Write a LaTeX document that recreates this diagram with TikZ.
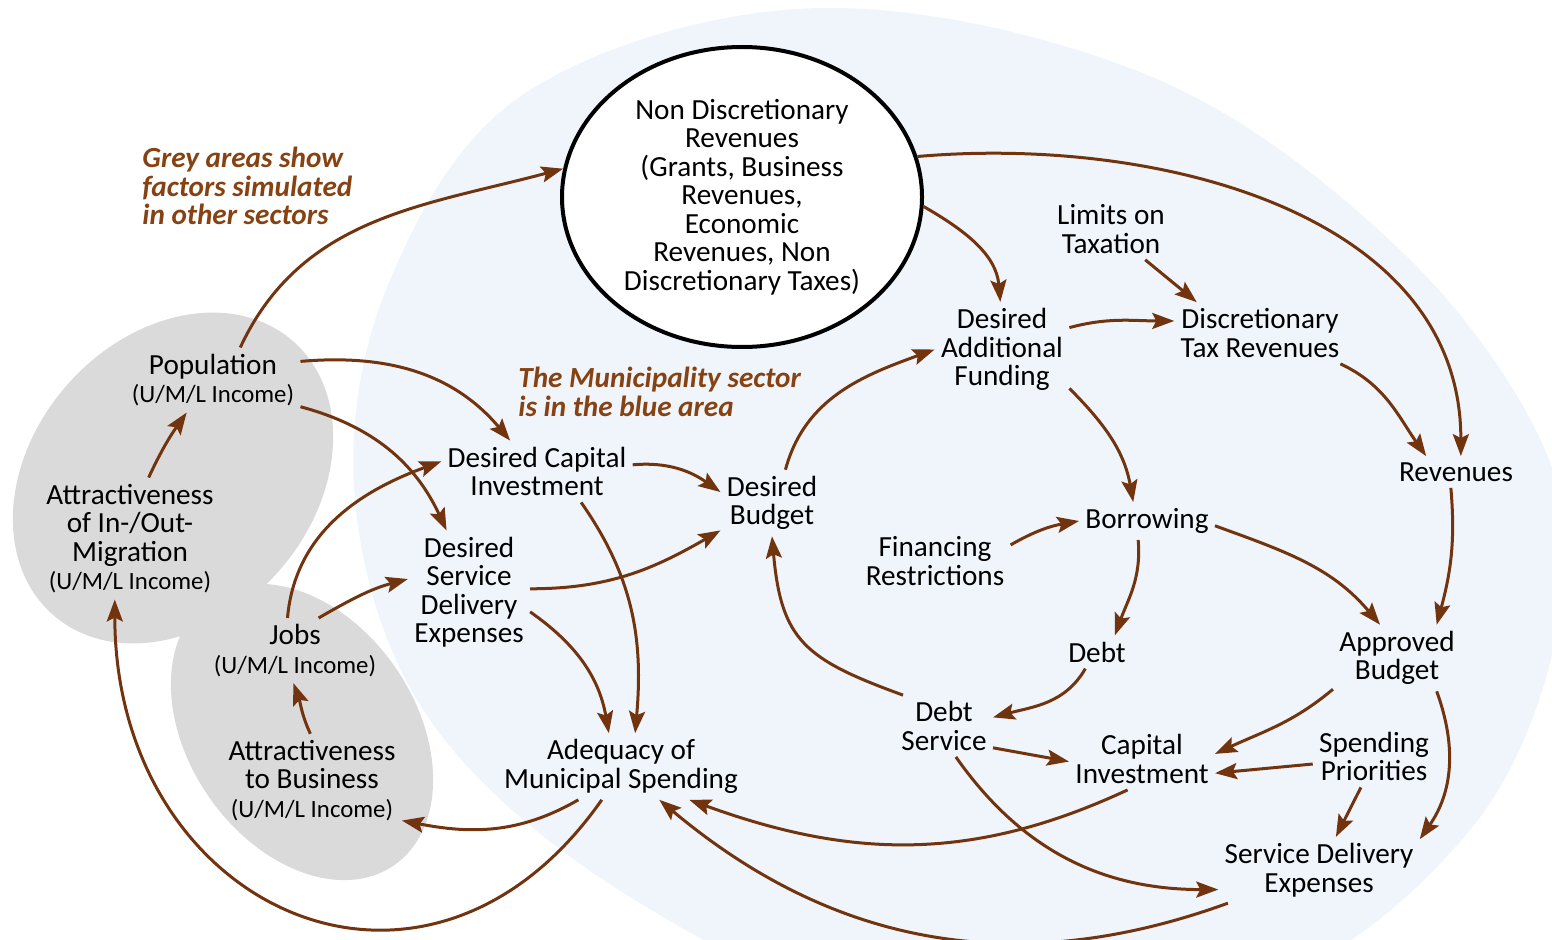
\documentclass[tikz,border=0pt]{standalone}
\usepackage{fontspec}
\setmainfont{Carlito}
\usepackage{tikz}
\usetikzlibrary{positioning, arrows.meta, shapes.geometric}

\definecolor{bluearea}{RGB}{239,245,251}
\definecolor{greyarea}{RGB}{218,218,218}
\definecolor{linkbrown}{RGB}{114,52,14}
\definecolor{notebrown}{RGB}{134,66,18}
\newcommand\varfont{\fontsize{14.6}{14.25}\selectfont}
\newcommand\inc{\fontsize{12.4}{13.5}\selectfont}

\tikzset{
  var/.style={align=center, inner sep=3pt, font=\varfont},
  link/.style={draw=linkbrown, line width=1.5pt, -{Stealth[length=11pt,width=8pt,inset=2pt]}},
  note/.style={anchor=west, align=left, inner sep=0pt, text=notebrown, font=\varfont\bfseries\itshape},
}

\begin{document}
\begin{tikzpicture}[x=0.5pt, y=0.5pt]
		\useasboundingbox (0,0) rectangle (1552,939);
		\clip (0,0) rectangle (1552,939);
		\fill[bluearea] plot[smooth cycle, tension=0.6] coordinates {(820,931) (1152,862) (1400,689) (1545,489) (1560,319) (1470,109) (1250,-51) (900,-71) (630,42) (430,219) (355,439) (390,659) (530,849)};
		\fill[greyarea, rotate around={48.7:(173,461)}] (173,461) ellipse [x radius=182, y radius=141];
		\fill[greyarea, rotate around={-55.4:(302,207)}] (302,207) ellipse [x radius=162, y radius=113.5];
		
		\node[note] (greynote) at (142,753) {Grey areas show\\factors simulated\\in other sectors};
		\node[note] (muninote) at (518,547) {The Municipality sector\\is in the blue area};
		
		\node[var, ellipse, draw, fill=white, line width=2pt, minimum width=180pt, minimum height=150pt] (ndr) at (742,742) {Non Discretionary\\Revenues\\(Grants, Business\\Revenues,\\Economic\\Revenues, Non\\Discretionary Taxes)};
		\node[var] (pop) at (213,559) {Population\\\inc (U/M/L Income)};
		\node[var] (attr) at (130,400.5) {Attractiveness\\of In-/Out-\\Migration\\\inc (U/M/L Income)};
		\node[var] (jobs) at (295,288.5) {Jobs\\\inc (U/M/L Income)};
		\node[var] (attrbus) at (312,158.5) {Attractiveness\\to Business\\\inc (U/M/L Income)};
		\node[var] (dci) at (537,467.5) {Desired Capital\\Investment};
		\node[var] (dsde) at (469,347) {Desired\\Service\\Delivery\\Expenses};
		\node[var] (db) at (772,436) {Desired\\Budget};
		\node[var] (adeq) at (621,172.5) {Adequacy of\\Municipal Spending};
		\node[var] (daf) at (1002,589.5) {Desired\\Additional\\Funding};
		\node[var] (lim) at (1111,710) {Limits on\\Taxation};
		\node[var] (dtr) at (1260,606) {Discretionary\\Tax Revenues};
		\node[var] (rev) at (1456,467) {Revenues};
		\node[var] (borr) at (1147,418) {Borrowing};
		\node[var] (fin) at (935,378) {Financing\\Restrictions};
		\node[var] (debt) at (1097,287) {Debt};
		\node[var] (ab) at (1397,281) {Approved\\Budget};
		\node[var] (ds) at (944,213) {Debt\\Service};
		\node[var] (ci) at (1142,180) {Capital\\Investment};
		\node[var] (sp) at (1374,182.5) {Spending\\Priorities};
		\node[var] (sde) at (1319,69) {Service Delivery\\Expenses};
		
		\draw[link] (pop.50) to[out=65, in=195] (ndr.171);
		\draw[link] (pop.12) to[out=5, in=130] (dci.131);
		\draw[link] (pop.-17) to[out=-15, in=115] (dsde.110);
		\draw[link] (attr.73) to[out=65, in=235] (pop.231);
		\draw[link] (adeq.-120) to[out=-125, in=-90, looseness=1.5] (attr.256);
		\draw[link] (jobs.103) to[out=85, in=200] (dci.174);
		\draw[link] (jobs.54) to[out=30, in=195] (dsde.168);
		\draw[link] (attrbus.92) to[out=115, in=-70] (jobs.-93);
		\draw[link] (adeq.-142) to[out=-150, in=-11] (attrbus.-24);
		\draw[link] (dci.4) to[out=5, in=145] (db.168);
		\draw[link] (dci.-35) to[out=-55, in=85] (adeq.67);
		\draw[link] (dsde.3) to[out=0, in=210] (db.208);
		\draw[link] (dsde.-18) to[out=-35, in=100] (adeq.110);
		\draw[link] (db.68) to[out=75, in=200] (daf.180);
		\draw[link] (ndr.-3) to[out=-30, in=95] (daf.92);
		\draw[link] (ndr.13) to[out=5, in=90] (rev.73);
		\draw[link] (lim.-42) -- (dtr.154);
		\draw[link] (daf.18) to[out=15, in=180] (dtr.172);
		\draw[link] (dtr.-21) to[out=-25, in=125] (rev.152);
		\draw[link] (daf.-30) to[out=-45, in=100] (borr.126);
		\draw[link] (fin.12) to[out=30, in=190] (borr.180);
		\draw[link] (borr.-115) to[out=-85, in=70] (debt.43);
		\draw[link] (borr.-4) to[out=-20, in=130] (ab.117);
		\draw[link] (rev.-108) to[out=-85, in=75] (ab.40);
		\draw[link] (debt.-125) to[out=-120, in=15] (ds.10);
		\draw[link] (ds.143) to[out=160, in=-85, looseness=1.3] (db.-90);
		\draw[link] (ds.-24) -- (ci.182);
		\draw[link] (ds.-69) to[out=-55, in=180] (sde.191);
		\draw[link] (ab.206) to[out=-140, in=25] (ci.4);
		\draw[link] (sp.187) -- (ci.-11);
		\draw[link] (sp.-113) -- (sde.63);
		\draw[link] (ab.-40) to[out=-70, in=55] (sde.17);
		\draw[link] (ci.-115) to[out=-155, in=-20] (adeq.-26);
		\draw[link] (sde.-160) to[out=-160, in=-40] (adeq.-41);
	\end{tikzpicture}
\end{document}
